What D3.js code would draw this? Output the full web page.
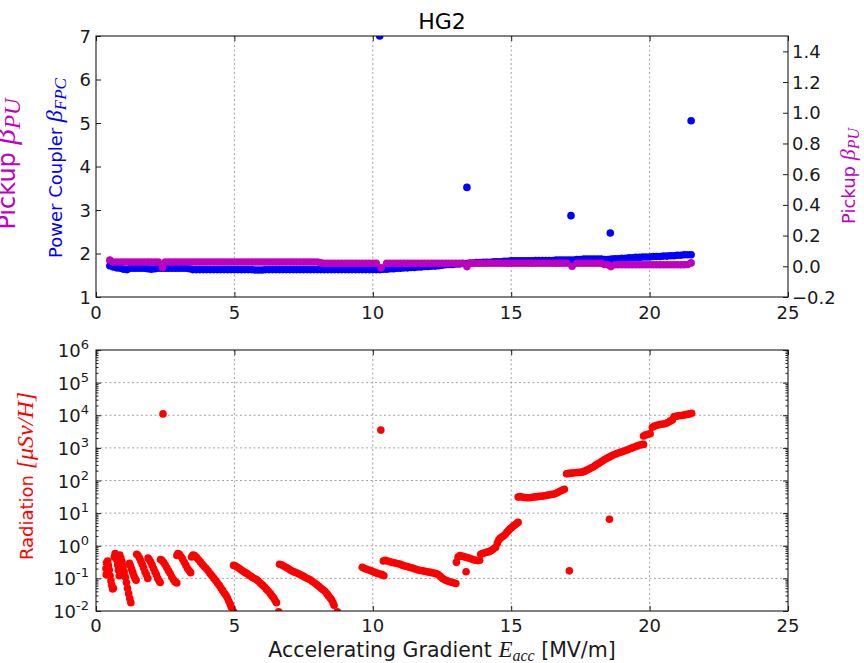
<!DOCTYPE html>
<html><head><meta charset="utf-8">
<script src="https://cdn.jsdelivr.net/npm/d3@7"></script>
<style>body{margin:0;background:#fff} svg{display:block} text{font-family:"DejaVu Sans",sans-serif}</style>
</head><body><svg id="c" width="864" height="663"></svg>
<script>
// ---------- data ----------
const title = "HG2";
const xTicks = [0, 5, 10, 15, 20, 25];
const couplerTicks = [1, 2, 3, 4, 5, 6, 7];
const pickupTicks = [-0.2, 0, 0.2, 0.4, 0.6, 0.8, 1.0, 1.2, 1.4];
const radExponents = [-2, -1, 0, 1, 2, 3, 4, 5, 6];

// Power coupler beta (left axis, top panel)
const coupler = [[0.5,1.72],[0.625,1.69],[0.75,1.67],[0.875,1.66],[1.0,1.64],[1.125,1.63],[1.25,1.66],[1.375,1.66],[1.5,1.66],[1.625,1.66],[1.75,1.66],[1.875,1.65],[2.0,1.64],[2.125,1.65],[2.25,1.66],[2.375,1.66],[2.5,1.66],[2.625,1.66],[2.75,1.66],[2.875,1.66],[3.0,1.66],[3.125,1.66],[3.25,1.66],[3.375,1.65],[3.5,1.63],[3.625,1.63],[3.75,1.63],[3.875,1.63],[4.0,1.63],[4.125,1.63],[4.25,1.63],[4.375,1.63],[4.5,1.63],[4.625,1.63],[4.75,1.63],[4.875,1.63],[5.0,1.63],[5.125,1.63],[5.25,1.63],[5.375,1.63],[5.5,1.63],[5.625,1.63],[5.75,1.62],[5.875,1.62],[6.0,1.62],[6.125,1.63],[6.25,1.63],[6.375,1.63],[6.5,1.63],[6.625,1.63],[6.75,1.63],[6.875,1.63],[7.0,1.63],[7.125,1.63],[7.25,1.63],[7.375,1.63],[7.5,1.63],[7.625,1.63],[7.75,1.63],[7.875,1.63],[8.0,1.63],[8.125,1.63],[8.25,1.63],[8.375,1.63],[8.5,1.63],[8.625,1.63],[8.75,1.63],[8.875,1.63],[9.0,1.63],[9.125,1.63],[9.25,1.63],[9.375,1.63],[9.5,1.63],[9.625,1.63],[9.75,1.63],[9.875,1.63],[10.0,1.63],[10.125,1.63],[10.25,1.63],[10.375,1.64],[10.5,1.64],[10.625,1.65],[10.75,1.65],[10.875,1.66],[11.0,1.66],[11.125,1.67],[11.25,1.67],[11.375,1.68],[11.5,1.68],[11.625,1.69],[11.75,1.69],[11.875,1.70],[12.0,1.70],[12.125,1.71],[12.25,1.71],[12.375,1.72],[12.5,1.73],[12.625,1.74],[12.75,1.75],[12.875,1.75],[13.0,1.76],[13.125,1.76],[13.25,1.77],[13.375,1.77],[13.5,1.78],[13.625,1.78],[13.75,1.79],[13.875,1.79],[14.0,1.80],[14.125,1.80],[14.25,1.80],[14.375,1.81],[14.5,1.81],[14.625,1.81],[14.75,1.82],[14.875,1.82],[15.0,1.83],[15.125,1.83],[15.25,1.83],[15.375,1.83],[15.5,1.83],[15.625,1.83],[15.75,1.83],[15.875,1.84],[16.0,1.84],[16.125,1.84],[16.25,1.84],[16.375,1.84],[16.5,1.84],[16.625,1.85],[16.75,1.85],[16.875,1.85],[17.0,1.85],[17.125,1.85],[17.25,1.85],[17.375,1.86],[17.5,1.86],[17.625,1.87],[17.75,1.87],[17.875,1.87],[18.0,1.87],[18.125,1.87],[18.25,1.87],[18.375,1.86],[18.5,1.86],[18.625,1.87],[18.75,1.88],[18.875,1.88],[19.0,1.89],[19.125,1.89],[19.25,1.90],[19.375,1.90],[19.5,1.91],[19.625,1.91],[19.75,1.92],[19.875,1.92],[20.0,1.92],[20.125,1.93],[20.25,1.93],[20.375,1.93],[20.5,1.94],[20.625,1.94],[20.75,1.95],[20.875,1.95],[21.0,1.96],[21.125,1.96],[21.25,1.97],[21.375,1.97],[21.5,1.97]];
const couplerOutliers = [[10.25,7.0],[13.4,3.52],[17.16,2.87],[18.58,2.47],[21.5,5.05]];

// Pickup beta (right axis, top panel)
const pickup = [[0.5,0.04],[0.625,0.028],[0.75,0.028],[0.875,0.028],[1.0,0.028],[1.125,0.028],[1.25,0.028],[1.375,0.028],[1.5,0.028],[1.625,0.028],[1.75,0.028],[1.875,0.028],[2.0,0.028],[2.125,0.028],[2.25,0.028],[2.4,-0.008],[2.5,0.028],[2.625,0.028],[2.75,0.028],[2.875,0.028],[3.0,0.028],[3.125,0.028],[3.25,0.028],[3.375,0.028],[3.5,0.028],[3.625,0.028],[3.75,0.028],[3.875,0.028],[4.0,0.028],[4.125,0.028],[4.25,0.028],[4.375,0.028],[4.5,0.028],[4.625,0.028],[4.75,0.028],[4.875,0.028],[5.0,0.028],[5.125,0.028],[5.25,0.028],[5.375,0.028],[5.5,0.028],[5.625,0.028],[5.75,0.028],[5.875,0.028],[6.0,0.028],[6.125,0.028],[6.25,0.028],[6.375,0.028],[6.5,0.028],[6.625,0.028],[6.75,0.028],[6.875,0.028],[7.0,0.028],[7.125,0.028],[7.25,0.028],[7.375,0.028],[7.5,0.028],[7.625,0.028],[7.75,0.028],[7.875,0.028],[8.0,0.028],[8.125,0.022],[8.25,0.02],[8.375,0.02],[8.5,0.02],[8.625,0.02],[8.75,0.02],[8.875,0.02],[9.0,0.02],[9.125,0.02],[9.25,0.02],[9.375,0.02],[9.5,0.02],[9.625,0.02],[9.75,0.02],[9.875,0.02],[10.0,0.02],[10.125,0.02],[10.3,-0.01],[10.5,0.02],[10.625,0.02],[10.75,0.02],[10.875,0.02],[11.0,0.02],[11.125,0.02],[11.25,0.02],[11.375,0.02],[11.5,0.02],[11.625,0.02],[11.75,0.02],[11.875,0.02],[12.0,0.02],[12.125,0.02],[12.25,0.02],[12.375,0.02],[12.5,0.02],[12.625,0.02],[12.75,0.02],[12.875,0.02],[13.0,0.02],[13.125,0.02],[13.25,0.02],[13.4,-0.002],[13.5,0.02],[13.625,0.02],[13.75,0.02],[13.875,0.02],[14.0,0.02],[14.125,0.02],[14.25,0.02],[14.375,0.02],[14.5,0.02],[14.625,0.02],[14.75,0.02],[14.875,0.02],[15.0,0.02],[15.125,0.02],[15.25,0.02],[15.375,0.02],[15.5,0.02],[15.625,0.02],[15.75,0.02],[15.875,0.02],[16.0,0.02],[16.125,0.02],[16.25,0.02],[16.375,0.02],[16.5,0.02],[16.625,0.02],[16.75,0.02],[16.875,0.02],[17.0,0.02],[17.2,0.0],[17.375,0.02],[17.5,0.02],[17.625,0.02],[17.75,0.02],[17.875,0.02],[18.0,0.02],[18.125,0.02],[18.25,0.02],[18.375,0.012],[18.5,0.01],[18.6,-0.002],[18.75,0.01],[18.875,0.01],[19.0,0.01],[19.125,0.01],[19.25,0.01],[19.375,0.01],[19.5,0.01],[19.625,0.01],[19.75,0.01],[19.875,0.01],[20.0,0.01],[20.125,0.01],[20.25,0.01],[20.375,0.01],[20.5,0.01],[20.625,0.01],[20.75,0.01],[20.875,0.01],[21.0,0.01],[21.125,0.01],[21.25,0.01],[21.375,0.012],[21.5,0.022]];

// Radiation (bottom panel, log scale)
const radiation = [
[0.36,0.2],[0.37,0.13],[0.38,0.30],[0.42,0.34],[0.45,0.25],[0.48,0.18],[0.51,0.12],[0.54,0.085],[0.57,0.062],[0.60,0.047],[0.63,0.05],
[0.66,0.45],[0.69,0.58],[0.72,0.5],[0.75,0.37],[0.78,0.26],[0.81,0.18],[0.84,0.12],
[0.86,0.52],[0.90,0.42],[0.94,0.32],[0.98,0.23],[1.02,0.16],[1.06,0.11],[1.10,0.075],[1.14,0.05],[1.18,0.034],[1.22,0.024],[1.26,0.018],
[1.21,0.29],[1.25,0.24],[1.29,0.19],[1.33,0.15],[1.37,0.12],[1.41,0.1],[1.45,0.088],
[1.47,0.55],[1.52,0.5],[1.57,0.42],[1.62,0.34],[1.67,0.27],[1.72,0.21],[1.77,0.16],[1.82,0.13],[1.87,0.1],
[1.88,0.42],[1.93,0.37],[1.98,0.31],[2.03,0.25],[2.08,0.2],[2.13,0.16],[2.18,0.13],[2.23,0.1],[2.28,0.085],[2.32,0.075],
[2.33,0.38],[2.38,0.36],[2.44,0.31],[2.5,0.26],[2.56,0.21],[2.62,0.17],[2.68,0.14],[2.74,0.11],[2.8,0.09],[2.86,0.078],[2.92,0.072],
[2.92,0.5],[2.96,0.58],[3.01,0.55],[3.07,0.47],[3.13,0.39],[3.19,0.31],[3.25,0.25],[3.31,0.2],[3.37,0.17],[3.42,0.15],
[3.45,0.45],[3.5,0.52],[3.56,0.5],[3.63,0.44],[3.7,0.38],[3.77,0.32],[3.84,0.27],[3.91,0.23],[3.98,0.2],[4.05,0.17],[4.12,0.14],[4.19,0.12],[4.26,0.1],[4.33,0.085],[4.4,0.07],[4.46,0.06],[4.52,0.05],[4.58,0.042],[4.64,0.035],[4.7,0.03],[4.75,0.025],[4.8,0.02],[4.85,0.016],[4.89,0.013],[4.97,0.0095],
[4.97,0.25],[5.04,0.24],[5.11,0.22],[5.18,0.2],[5.25,0.18],[5.32,0.165],[5.39,0.15],[5.46,0.14],[5.53,0.125],[5.6,0.115],[5.67,0.105],[5.74,0.097],[5.81,0.09],[5.88,0.08],[5.95,0.07],[6.02,0.062],[6.09,0.054],[6.16,0.046],[6.23,0.04],[6.3,0.034],[6.36,0.029],[6.42,0.025],[6.47,0.021],[6.52,0.018],[6.6,0.0095],
[6.63,0.27],[6.7,0.26],[6.78,0.24],[6.86,0.22],[6.94,0.2],[7.02,0.18],[7.1,0.165],[7.18,0.155],[7.26,0.145],[7.34,0.135],[7.42,0.125],[7.5,0.115],[7.58,0.105],[7.66,0.097],[7.74,0.09],[7.82,0.08],[7.9,0.072],[7.98,0.064],[8.06,0.056],[8.13,0.05],[8.2,0.045],[8.27,0.04],[8.34,0.034],[8.4,0.029],[8.46,0.025],[8.51,0.022],[8.56,0.018],[8.6,0.015],[8.72,0.0095],
[9.62,0.22],[9.7,0.2],[9.78,0.19],[9.86,0.18],[9.94,0.17],[10.02,0.16],[10.1,0.15],[10.18,0.14],[10.26,0.135],[10.34,0.13],[10.4,0.12],
[10.38,0.34],[10.45,0.36],[10.52,0.34],[10.6,0.33],[10.68,0.31],[10.76,0.3],[10.84,0.29],[10.92,0.28],[11.0,0.27],[11.08,0.25],[11.16,0.24],[11.24,0.23],[11.32,0.22],[11.4,0.21],[11.48,0.2],[11.56,0.19],[11.64,0.18],[11.72,0.175],[11.8,0.17],[11.88,0.165],[11.96,0.16],[12.04,0.155],[12.12,0.15],[12.2,0.145],[12.28,0.14],[12.36,0.13],[12.44,0.115],[12.52,0.1],[12.6,0.09],[12.68,0.085],[12.76,0.08],[12.84,0.076],[12.92,0.073],[13.0,0.07],
[13.02,0.31],[13.08,0.45],[13.15,0.5],[13.22,0.48],[13.3,0.46],[13.38,0.44],[13.46,0.42],[13.54,0.4],[13.62,0.38],[13.7,0.36],[13.78,0.35],[13.86,0.36],
[13.9,0.55],[13.96,0.58],[14.02,0.6],[14.08,0.62],[14.14,0.64],[14.2,0.66],[14.26,0.7],[14.32,0.75],[14.38,0.82],[14.44,0.9],[14.5,1.2],[14.55,1.5],[14.6,1.7],[14.66,1.85],[14.72,2.0],[14.78,2.2],[14.84,2.6],[14.9,2.9],[14.96,3.3],[15.02,3.6],[15.08,4.0],[15.14,4.4],[15.2,4.8],[15.25,5.2],
[15.25,31],[15.32,32],[15.4,31],[15.48,30],[15.56,29.5],[15.64,29.5],[15.72,30],[15.8,31],[15.88,31.5],[15.96,32],[16.04,33],[16.12,33],[16.2,34],[16.28,35],[16.36,36],[16.44,37],[16.52,38],[16.6,40],[16.68,43],[16.76,47],[16.84,50],[16.92,54],
[17.0,160],[17.08,165],[17.16,168],[17.24,170],[17.32,172],[17.4,175],[17.48,178],[17.56,180],[17.64,190],[17.72,205],[17.8,220],[17.88,240],[17.96,260],[18.04,290],[18.12,320],[18.2,350],[18.28,390],[18.36,430],[18.44,470],[18.52,510],[18.6,550],[18.68,600],[18.76,640],[18.84,680],[18.92,720],[19.0,760],[19.08,800],[19.16,850],[19.24,900],[19.32,960],[19.4,1020],[19.48,1080],[19.56,1150],[19.64,1220],[19.72,1260],[19.78,1280],
[19.78,2300],[19.86,2500],[19.94,2600],[20.02,2700],[20.1,4300],[20.18,4700],[20.26,4900],[20.34,5100],[20.42,5300],[20.5,5400],[20.58,5600],[20.66,6000],[20.74,6600],[20.82,7200],[20.88,9000],[20.96,9300],[21.04,9600],[21.12,9800],[21.2,10000],[21.28,10300],[21.36,10600],[21.44,11000],[21.52,11500]
];
const radiationOutliers = [[2.42,11000],[10.29,3500],[13.37,0.16],[17.1,0.17],[18.55,6.5]];

// ---------- layout ----------
const BLUE = "#0000ff", MAG = "#bf00bf", RED = "#ff0000", INK = "#1a1a1a";
const L = 96, R = 788;
const T1 = 36, B1 = 297, T2 = 350, B2 = 611;
const FS = 18, RAD = 3.8;

const svg = d3.select("#c");
const x = d3.scaleLinear().domain([0, 25]).range([L, R]);
const yC = d3.scaleLinear().domain([1, 7]).range([B1, T1]);
const yP = d3.scaleLinear().domain([-0.2, 1.5]).range([B1, T1]);
const yR = d3.scaleLog().domain([1e-2, 1e6]).range([B2, T2]);

const defs = svg.append("defs");
defs.append("clipPath").attr("id","clipTop").append("rect").attr("x",L).attr("y",T1).attr("width",R-L).attr("height",B1-T1);
defs.append("clipPath").attr("id","clipBot").append("rect").attr("x",L).attr("y",T2).attr("width",R-L).attr("height",B2-T2);

const gridStyle = s => s.attr("stroke","#8a8a8a").attr("stroke-width",0.8).attr("stroke-dasharray","2,2.5").attr("fill","none");

// grids
const gridX = [5,10,15,20];
svg.append("g").selectAll("line").data(gridX).join("line")
  .attr("x1",d=>x(d)).attr("x2",d=>x(d)).attr("y1",T1).attr("y2",B1).call(gridStyle);
svg.append("g").selectAll("line").data(gridX).join("line")
  .attr("x1",d=>x(d)).attr("x2",d=>x(d)).attr("y1",T2).attr("y2",B2).call(gridStyle);
svg.append("g").selectAll("line").data(radExponents.slice(1,-1)).join("line")
  .attr("x1",L).attr("x2",R).attr("y1",d=>yR(Math.pow(10,d))).attr("y2",d=>yR(Math.pow(10,d))).call(gridStyle);

// top-panel data
const gTop = svg.append("g").attr("clip-path","url(#clipTop)");
gTop.append("g").selectAll("circle").data(coupler.concat(couplerOutliers)).join("circle")
  .attr("cx",d=>x(d[0])).attr("cy",d=>yC(d[1])).attr("r",RAD).attr("fill",BLUE);
gTop.append("g").selectAll("circle").data(pickup).join("circle")
  .attr("cx",d=>x(d[0])).attr("cy",d=>yP(d[1])).attr("r",RAD).attr("fill",MAG);

// bottom-panel data
const gBot = svg.append("g").attr("clip-path","url(#clipBot)");
gBot.append("g").selectAll("circle").data(radiation.concat(radiationOutliers)).join("circle")
  .attr("cx",d=>x(d[0])).attr("cy",d=>yR(d[1])).attr("r",RAD).attr("fill",RED);

// axes (ticks inside)
function ticksOnly(g){ g.select(".domain").remove(); g.selectAll(".tick text").remove(); g.selectAll(".tick line").attr("stroke",INK); }
const TS = 5, TSm = 2.5;
svg.append("g").attr("transform",`translate(0,${B1})`).call(d3.axisBottom(x).tickValues(xTicks).tickSize(-TS)).call(ticksOnly);
svg.append("g").attr("transform",`translate(0,${T1})`).call(d3.axisTop(x).tickValues(xTicks).tickSize(-TS)).call(ticksOnly);
svg.append("g").attr("transform",`translate(${L},0)`).call(d3.axisLeft(yC).tickValues(couplerTicks).tickSize(-TS)).call(ticksOnly);
svg.append("g").attr("transform",`translate(${R},0)`).call(d3.axisRight(yP).tickValues(pickupTicks).tickSize(-TS)).call(ticksOnly);
svg.append("g").attr("transform",`translate(0,${B2})`).call(d3.axisBottom(x).tickValues(xTicks).tickSize(-TS)).call(ticksOnly);
svg.append("g").attr("transform",`translate(0,${T2})`).call(d3.axisTop(x).tickValues(xTicks).tickSize(-TS)).call(ticksOnly);
const majorR = radExponents.map(e=>Math.pow(10,e));
const minorR = [];
radExponents.slice(0,-1).forEach(e=>{ for(let k=2;k<=9;k++) minorR.push(k*Math.pow(10,e)); });
svg.append("g").attr("transform",`translate(${L},0)`).call(d3.axisLeft(yR).tickValues(majorR).tickSize(-TS)).call(ticksOnly);
svg.append("g").attr("transform",`translate(${L},0)`).call(d3.axisLeft(yR).tickValues(minorR).tickSize(-TSm)).call(ticksOnly);
svg.append("g").attr("transform",`translate(${R},0)`).call(d3.axisRight(yR).tickValues(majorR).tickSize(-TS)).call(ticksOnly);
svg.append("g").attr("transform",`translate(${R},0)`).call(d3.axisRight(yR).tickValues(minorR).tickSize(-TSm)).call(ticksOnly);

// frames
svg.append("rect").attr("x",L).attr("y",T1).attr("width",R-L).attr("height",B1-T1).attr("fill","none").attr("stroke",INK).attr("stroke-width",1.1);
svg.append("rect").attr("x",L).attr("y",T2).attr("width",R-L).attr("height",B2-T2).attr("fill","none").attr("stroke",INK).attr("stroke-width",1.1);

// tick labels
const lab = svg.append("g").attr("fill",INK).attr("font-size",FS);
lab.append("g").selectAll("text").data(xTicks).join("text")
  .attr("x",d=>x(d)).attr("y",B1+22).attr("text-anchor","middle").text(d=>d);
lab.append("g").selectAll("text").data(xTicks).join("text")
  .attr("x",d=>x(d)).attr("y",B2+21).attr("text-anchor","middle").text(d=>d);
lab.append("g").selectAll("text").data(couplerTicks).join("text")
  .attr("x",L-5).attr("y",d=>yC(d)+6.5).attr("text-anchor","end").text(d=>d);
lab.append("g").selectAll("text").data(pickupTicks).join("text")
  .attr("x",R+4).attr("y",d=>yP(d)+6.5).attr("text-anchor","start").text(d=>d<0?"\u2212"+Math.abs(d).toFixed(1):d.toFixed(1));
const lt = lab.append("g").selectAll("text").data(radExponents).join("text")
  .attr("x",L-7).attr("y",d=>yR(Math.pow(10,d))+7).attr("text-anchor","end");
lt.append("tspan").text("10");
lt.append("tspan").attr("dy",-8).attr("font-size",13).text(d=>d);

// title
svg.append("text").attr("x",(L+R)/2).attr("y",29).attr("text-anchor","middle").attr("font-size",22).attr("fill","#000").text(title);

// axis labels
const MATH = 'font-family="Liberation Serif" font-style="italic"';
function rotLabel(cx, cy, color, size, html){
  svg.append("text").attr("transform",`translate(${cx},${cy}) rotate(-90)`).attr("text-anchor","middle")
    .attr("fill",color).attr("font-size",size).html(html);
}
rotLabel(15, 164, MAG, 24, `Pickup <tspan ${MATH} font-size="31">β</tspan><tspan ${MATH} font-size="23" dy="5">PU</tspan>`);
rotLabel(62, 168, BLUE, 18, `Power Coupler <tspan ${MATH} font-size="24">β</tspan><tspan ${MATH} font-size="17" dy="4">FPC</tspan>`);
rotLabel(855, 176, MAG, 18, `Pickup <tspan ${MATH} font-size="22">β</tspan><tspan ${MATH} font-size="16" dy="4">PU</tspan>`);
rotLabel(33, 476, RED, 18, `Radiation <tspan ${MATH} font-size="24">[μSv/H]</tspan>`);
svg.append("text").attr("x",(L+R)/2).attr("y",657).attr("text-anchor","middle").attr("fill",INK).attr("font-size",20.5)
  .html(`Accelerating Gradient <tspan ${MATH} font-size="23">E</tspan><tspan ${MATH} font-size="16" dy="4">acc</tspan><tspan dy="-4"> [MV/m]</tspan>`);
</script></body></html>
